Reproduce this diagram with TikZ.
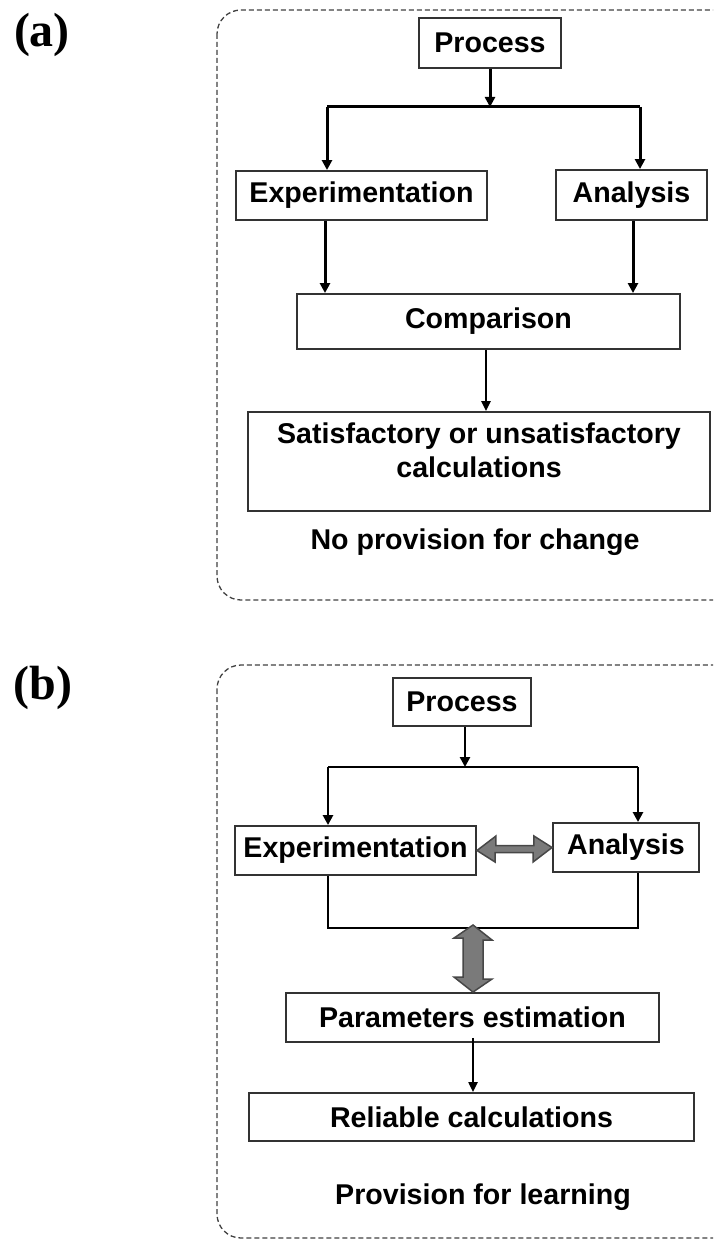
\documentclass[tikz,border=0pt]{standalone}
\usepackage{fontspec}
\setmainfont{Liberation Sans}
\newfontfamily\timesb{Liberation Serif}
\usetikzlibrary{arrows.meta}
\begin{document}
\begin{tikzpicture}[x=1pt,y=-1pt,
  box/.style={draw=black!80, line width=1.9pt, fill=white, inner sep=0pt, font=\fontsize{28.6}{34}\selectfont\bfseries},
  txt/.style={font=\fontsize{28.6}{34}\selectfont\bfseries, align=center, inner sep=0pt},
  conn/.style={line width=3pt, -{Triangle[length=10pt,width=10pt]}},
  thinconn/.style={line width=2.2pt, -{Triangle[length=10pt,width=9pt]}},
  wire/.style={line width=3pt},
  frame/.style={draw=black!75, dash pattern=on 5pt off 3pt, line width=1.3pt, rounded corners=24pt},
  fat/.style={fill=black!52, draw=black!72, line width=1.5pt, line join=miter},
  lab/.style={font=\fontsize{48}{52}\timesb\bfseries, inner sep=0pt}]
\useasboundingbox (0,0) rectangle (713,1241);
\clip (0,0) rectangle (713,1241);

% ---------- (a) ----------
\node[lab] (la) at (42,35) {(a)};
\draw[frame] (217,10) rectangle (745,600);

\node[box, minimum width=142pt, minimum height=50pt] (pa) at (490,43) {Process};
\node[box, minimum width=251pt, minimum height=49pt] (ea) at (361.5,195.5) {Experimentation};
\node[box, minimum width=151pt, minimum height=50pt] (aa) at (631.5,195) {Analysis};
\node[box, minimum width=383pt, minimum height=55pt] (ca) at (488.5,321.5) {Comparison};
\node[box, minimum width=462pt, minimum height=99pt] (sa) at (479,461.5) {};
\node[txt] (sat) at (479,450) {Satisfactory or unsatisfactory\\calculations};
\node[txt] (npa) at (475,542) {No provision for change};

\coordinate (ja) at (490,107);
\coordinate (jaL) at (327,107);
\coordinate (jaR) at (640,107);
\draw[wire] (jaL) -- (jaR);
\draw[conn] (pa.south) -- (ja);
\draw[conn] (jaL) -- (jaL |- ea.north);
\draw[conn] (jaR) -- (jaR |- aa.north);
\draw[conn] ([xshift=-36.5pt]ea.south) -- ([xshift=-36.5pt]ea.south |- ca.north);
\draw[conn] ([xshift=1.5pt]aa.south) -- ([xshift=1.5pt]aa.south |- ca.north);
\draw[thinconn, line width=2.6pt] ([xshift=-2.5pt]ca.south) -- ([xshift=-2.5pt]ca.south |- sa.north);

% ---------- (b) ----------
\node[lab] (lb) at (43,688) {(b)};
\draw[frame] (217,665) rectangle (745,1238);

\node[box, minimum width=138pt, minimum height=48pt] (pb) at (462,702) {Process};
\node[box, minimum width=241pt, minimum height=49pt] (eb) at (355.5,850.5) {Experimentation};
\node[box, minimum width=146pt, minimum height=49pt] (ab) at (626,847.5) {Analysis};
\node[box, minimum width=373pt, minimum height=49pt] (pe) at (472.5,1017.5) {Parameters estimation};
\node[box, minimum width=445pt, minimum height=48pt] (rc) at (471.5,1117) {Reliable calculations};
\node[txt] (pfl) at (483,1197) {Provision for learning};

\coordinate (jb) at (465,767);
\coordinate (jbL) at (328,767);
\coordinate (jbR) at (638,767);
\draw[wire, line width=2.8pt] (jbL) -- (jbR);
\draw[conn, line width=2.8pt] ([xshift=3pt]pb.south) -- (jb);
\draw[conn, line width=2.8pt] (jbL) -- (jbL |- eb.north);
\draw[conn, line width=2.8pt] (jbR) -- (jbR |- ab.north);

\coordinate (kbL) at (328,928);
\coordinate (kbR) at (638,928);
\draw[wire, line width=2.8pt] (kbL |- eb.south) -- (kbL) -- (kbR) -- (kbR |- ab.south);

% fat double arrows
\draw[fat] (eb.east) -- ++(19,-14.5) -- ++(0,9.5) -- ++(38,0) -- ++(0,-9.5)
  -- (ab.west) -- ++(-19,14.5) -- ++(0,-9.5) -- ++(-38,0) -- ++(0,9.5) -- cycle;
\draw[fat] (473,925) -- ++(19,15) -- ++(-9,0) -- ++(0,39) -- ++(9,0)
  -- (pe.north -| 473,0) -- ++(-19,-15) -- ++(9,0) -- ++(0,-39) -- ++(-9,0) -- cycle;

\draw[thinconn] ([xshift=0.5pt,yshift=5pt]pe.south) -- ([xshift=0.5pt]pe.south |- rc.north);
\end{tikzpicture}
\end{document}
